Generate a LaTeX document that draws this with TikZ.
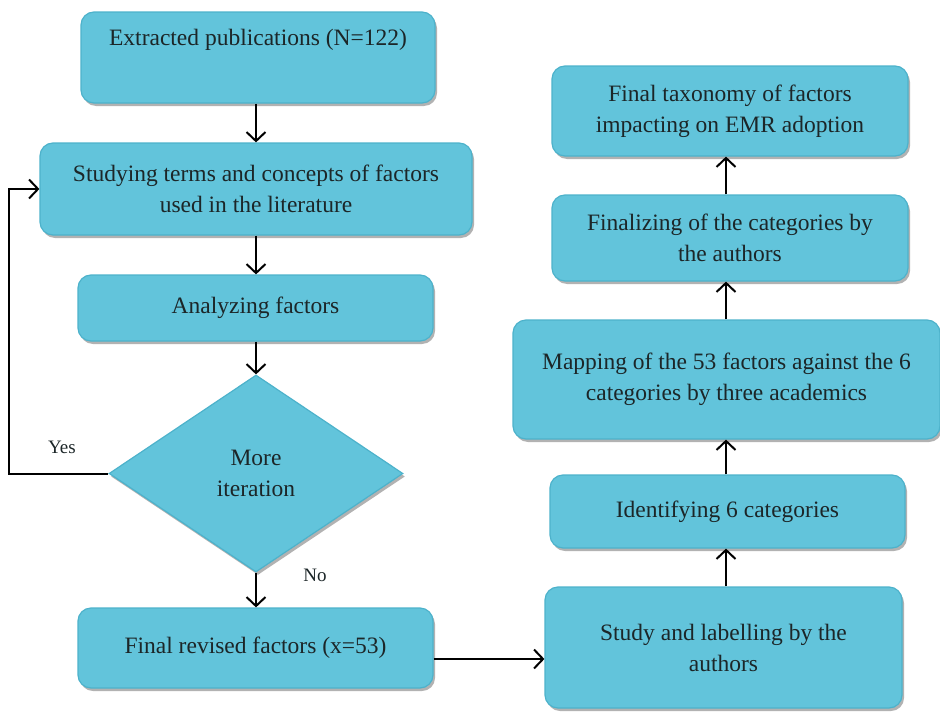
\documentclass[tikz,border=0pt]{standalone}
\usepackage{fontspec}
\setmainfont{Liberation Serif}
\usetikzlibrary{shapes.geometric,arrows.meta,shadows}
\definecolor{boxfill}{HTML}{62C4DB}
\definecolor{boxline}{HTML}{4DB2CB}
\definecolor{ink}{HTML}{1C2628}
\begin{document}
\begin{tikzpicture}[x=1pt,y=-1pt,
  stepbox/.style={rectangle, rounded corners=13pt, fill=boxfill, draw=boxline,
    line width=1.2pt, align=center, text=ink, inner sep=0pt,
    font=\rmfamily\fontsize{23.5}{31}\selectfont,
    drop shadow={shadow xshift=2pt, shadow yshift=-3pt, opacity=0.3, fill=black}},
  decision/.style={diamond, fill=boxfill, draw=boxline, line width=1.2pt,
    align=center, text=ink, inner sep=0pt, aspect=1.5,
    font=\rmfamily\fontsize{23.5}{31}\selectfont,
    drop shadow={shadow xshift=2pt, shadow yshift=-3pt, opacity=0.3, fill=black}},
  arr/.style={-{Straight Barb[length=9pt,width=19pt,line width=2pt]}, line width=2pt, black},
  tag/.style={text=ink, font=\rmfamily\fontsize{19}{23}\selectfont}]
\useasboundingbox (0,0) rectangle (940,720);

% left column
\node[stepbox, minimum width=354pt, minimum height=91pt] (ext) at (258,57.5)
  {Extracted publications (N=122)\\ \strut};
\node[stepbox, minimum width=432pt, minimum height=92pt] (stu) at (256,189)
  {Studying terms and concepts of factors\\used in the literature};
\node[stepbox, minimum width=355pt, minimum height=66pt] (ana) at (255.5,308)
  {Analyzing factors};
\node[decision, minimum width=294pt, minimum height=197pt] (dia) at (256,473.5)
  {More\\iteration};
\node[stepbox, minimum width=355pt, minimum height=80pt] (fin) at (255.5,648)
  {Final revised factors (x=53)};

% right column
\node[stepbox, minimum width=357pt, minimum height=121pt] (lab) at (723.5,647.5)
  {Study and labelling by the\\authors};
\node[stepbox, minimum width=355pt, minimum height=73pt] (ide) at (727.5,511.5)
  {Identifying 6 categories};
\node[stepbox, minimum width=427pt, minimum height=119pt] (map) at (726.5,379.5)
  {Mapping of the 53 factors against the 6\\categories by three academics};
\node[stepbox, minimum width=356pt, minimum height=86pt] (fzn) at (730,238)
  {Finalizing of the categories by\\the authors};
\node[stepbox, minimum width=356pt, minimum height=90pt] (tax) at (730,111)
  {Final taxonomy of factors\\impacting on EMR adoption};

% labels
\node[tag] (yes) at (62,447) {Yes};
\node[tag] (no) at (315,575) {No};

% connectors, left column
\draw[arr] (ext.south -| stu.north) -- (stu.north);
\draw[arr] (stu.south) -- (stu.south |- ana.north);
\draw[arr] (ana.south -| dia.north) -- (dia.north);
\draw[arr] (dia.south) -- (dia.south |- fin.north);
\draw[arr] (dia.west) -- ++(-99,0) |- (stu.west);

% across
\draw[arr] ([yshift=-11pt]fin.east) -- ([yshift=-11pt]fin.east -| lab.west);

% connectors, right column
\coordinate (rx) at (726,0);
\draw[arr] (rx |- lab.north) -- (rx |- ide.south);
\draw[arr] (rx |- ide.north) -- (rx |- map.south);
\draw[arr] (rx |- map.north) -- (rx |- fzn.south);
\draw[arr] (rx |- fzn.north) -- (rx |- tax.south);
\end{tikzpicture}
\end{document}
